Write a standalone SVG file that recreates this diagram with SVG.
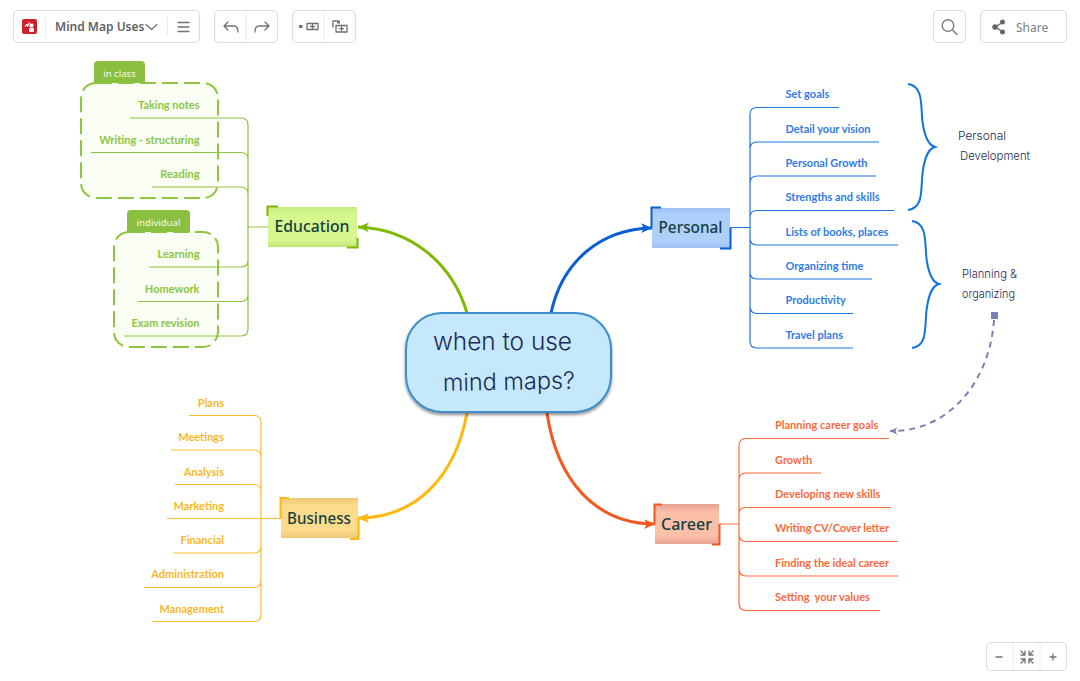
<svg xmlns="http://www.w3.org/2000/svg" width="1080" height="681" viewBox="0 0 1080 681">
<style>
text{font-family:"Noto Sans","Open Sans",sans-serif}
.ui{fill:#fff;stroke:#dcdcdc;stroke-width:1.2}
.sep{stroke:#ececec;stroke-width:1;fill:none}
.ic{fill:none;stroke:#6f7275;stroke-width:1.3;stroke-linecap:round;stroke-linejoin:round}
.l{font-family:"Lato","Noto Sans",sans-serif;font-size:11px;font-weight:700}
.e{fill:#8cc63f}.p{fill:#2f7be6}.c{fill:#fa6a3c}.b{fill:#fbb726}
.end{text-anchor:end}
.t{font-size:16px;font-weight:500;fill:#15403f;text-anchor:middle}
.h{font-family:"Inter","Noto Sans",sans-serif;font-weight:300;fill:#1c2b55}
.line{fill:none;stroke-width:1.2}
.main{fill:none;stroke-width:3}
.br{fill:none;stroke-width:2}
.bound{fill:#f9fdf3;stroke:#8cc63f;stroke-width:2;stroke-dasharray:16 6}
</style>
<defs>
<linearGradient id="ge" x1="0" y1="0" x2="0" y2="1"><stop offset="0" stop-color="#c4ec74"/><stop offset=".15" stop-color="#d6f68e"/><stop offset=".85" stop-color="#d6f68e"/><stop offset="1" stop-color="#bfe56f"/></linearGradient>
<linearGradient id="gp" x1="0" y1="0" x2="0" y2="1"><stop offset="0" stop-color="#9cc0f2"/><stop offset=".15" stop-color="#add0fb"/><stop offset=".85" stop-color="#add0fb"/><stop offset="1" stop-color="#9cc0f2"/></linearGradient>
<linearGradient id="gc" x1="0" y1="0" x2="0" y2="1"><stop offset="0" stop-color="#e5a390"/><stop offset=".2" stop-color="#fcbfa8"/><stop offset=".8" stop-color="#fcbfa8"/><stop offset="1" stop-color="#e5a390"/></linearGradient>
<linearGradient id="gb" x1="0" y1="0" x2="0" y2="1"><stop offset="0" stop-color="#ecc878"/><stop offset=".2" stop-color="#fcdc8c"/><stop offset=".8" stop-color="#fcdc8c"/><stop offset="1" stop-color="#ecc878"/></linearGradient>
<filter id="sh" x="-10%" y="-10%" width="120%" height="125%"><feDropShadow dx="0" dy="2" stdDeviation="1.5" flood-color="#000" flood-opacity=".45"/></filter>
<marker id="ag" viewBox="0 0 12 10" refX="11" refY="5" markerWidth="13" markerHeight="11" markerUnits="userSpaceOnUse" orient="auto"><path d="M1 0.5L11 5L1 9.5L3.500 5Z" fill="#7fba00"/></marker>
<marker id="ab" viewBox="0 0 12 10" refX="11" refY="5" markerWidth="13" markerHeight="11" markerUnits="userSpaceOnUse" orient="auto"><path d="M1 0.5L11 5L1 9.5L3.500 5Z" fill="#0a5fd4"/></marker>
<marker id="ac" viewBox="0 0 12 10" refX="11" refY="5" markerWidth="13" markerHeight="11" markerUnits="userSpaceOnUse" orient="auto"><path d="M1 0.5L11 5L1 9.5L3.500 5Z" fill="#f4581e"/></marker>
<marker id="ay" viewBox="0 0 12 10" refX="11" refY="5" markerWidth="13" markerHeight="11" markerUnits="userSpaceOnUse" orient="auto"><path d="M1 0.5L11 5L1 9.5L3.500 5Z" fill="#ffb80c"/></marker>
<marker id="ar" viewBox="0 0 10 10" refX="9" refY="5" markerWidth="9" markerHeight="9" markerUnits="userSpaceOnUse" orient="auto"><path d="M1 1L9 5L1 9L3 5Z" fill="#7a80b8"/></marker>
</defs>

<g id="toolbar">
<rect class="ui" x="13.500" y="10.500" width="186" height="32" rx="4.500"/>
<rect x="22" y="19" width="15" height="15" rx="2" fill="#d0202e"/>
<path d="M25 27l1.500-3 1 3 2-5M30 24h3v3h-3zM29.500 28.500h4v3h-4z" fill="#fff" stroke="#fff" stroke-width=".8"/>
<path class="sep" d="M45.500 17v19M167.500 17v19"/>
<text x="55" y="31.300" font-size="12" font-weight="600" fill="#5f6368">Mind Map Uses</text>
<path class="ic" d="M146 24.500l5.500 5 5.500-5" stroke-width=".9"/>
<path class="ic" d="M178 22.500h11M178 27h11M178 31.500h11" stroke-width="1"/>
<rect class="ui" x="214.500" y="10.500" width="63" height="32" rx="4.500"/>
<path class="sep" d="M246 11v31"/>
<path class="ic" d="M228 22l-4 4 4 4M224 26h10c3 0 4 2 4 6"/>
<path class="ic" d="M265 22l4 4-4 4M269 26h-10c-3 0-4 2-4 6"/>
<rect class="ui" x="292.500" y="10.500" width="63" height="32" rx="4.500"/>
<path class="sep" d="M324 11v31"/>
<rect x="299" y="25" width="3.500" height="3" fill="#6f7275"/>
<rect class="ic" x="307" y="23.500" width="11" height="6" stroke-width="1"/>
<path class="ic" d="M310.500 26.500h4M312.500 24.500v4" stroke-width=".8"/>
<path class="ic" d="M333 27v-6h4" stroke-width="1"/>
<rect x="337" y="20.500" width="3" height="3" fill="#6f7275"/>
<rect class="ic" x="336" y="25.500" width="11" height="6.500" stroke-width="1"/>
<path class="ic" d="M339.500 28.700h4M341.500 26.700v4" stroke-width=".8"/>
<rect class="ui" x="933.500" y="10.500" width="32" height="32" rx="4.500"/>
<circle class="ic" cx="948" cy="25.500" r="5.800"/>
<path class="ic" d="M952.500 30l4.500 4.500"/>
<rect class="ui" x="980.500" y="10.500" width="86" height="32" rx="4.500"/>
<path d="M1002.500 22.500L995 27l7.500 4.500" fill="none" stroke="#63666a" stroke-width="1.400"/>
<circle cx="995" cy="27" r="2.700" fill="#63666a"/><circle cx="1002.500" cy="22" r="2.500" fill="#63666a"/><circle cx="1002.500" cy="32" r="2.500" fill="#63666a"/>
<text x="1016" y="31.500" font-size="12" fill="#7b7e82">Share</text>
<rect class="ui" x="986.500" y="642.500" width="80" height="28" rx="4.500"/>
<path class="sep" d="M1013 643v27M1040 643v27"/>
<path class="ic" d="M996 657h6M1050 657h6M1053 654v6" stroke-width="1.200"/>
<path class="ic" d="M1021 651l4 4M1021 655h4v-4M1033 651l-4 4M1033 655h-4v-4M1021 663l4-4M1021 659h4v4M1033 663l-4-4M1033 659h-4v4" stroke-width="1"/>
</g>

<g id="boundary-in-class">
<path d="M94 84V65q0-4 4-4H141q4 0 4 4V84Z" fill="#8bbf42"/>
<rect class="bound" x="81" y="83" width="137" height="115" rx="15"/>
<text x="119.500" y="77" font-size="9.600" fill="#f4faea" text-anchor="middle">in class</text>
</g>
<g id="boundary-individual">
<path d="M127 233V214q0-4 4-4H186q4 0 4 4V233Z" fill="#8bbf42"/>
<rect class="bound" x="114" y="232" width="104" height="115" rx="15"/>
<text x="158.500" y="226" font-size="9.600" fill="#f4faea" text-anchor="middle">individual</text>
</g>

<g id="connectors">
<path class="main" stroke="#7fba00" marker-end="url(#ag)" d="M467 313C452 262 410 229 358 227"/>
<path class="main" stroke="#0a5fd4" marker-end="url(#ab)" d="M551 313C562 262 600 229 652 228"/>
<path class="main" stroke="#f4581e" marker-end="url(#ac)" d="M547 413C557 480 595 524 655 524"/>
<path class="main" stroke="#ffb80c" marker-end="url(#ay)" d="M467 413C455 478 415 518 358 518"/>

<g stroke="#8cc63f" class="line">
<path d="M268 227H248M130 118H241q7 0 7 7V329q0 7-7 7H124M91 152.500H241q7 0 7 7M152 187H241q7 0 7 7M149 267H241q7 0 7-7M138 301.500H241q7 0 7-7"/>
</g>
<g stroke="#1c74e3" class="line">
<path d="M730 227.500H750M839 107.500H757q-7 0-7 7V341q0 7 7 7H853M879 142H757q-7 0-7 7M876 176H757q-7 0-7 7M894 210.500H757q-7 0-7 7M898 245H757q-7 0-7-7M872 279H757q-7 0-7-7M853 313.500H757q-7 0-7-7"/>
</g>
<g stroke="#fa6a3c" class="line">
<path d="M719 524H739M889 438.500H746q-7 0-7 7V603.500q0 7 7 7H880M821 473H746q-7 0-7 7M891 507.500H746q-7 0-7 7M898 541.500H746q-7 0-7-7M898 576H746q-7 0-7-7"/>
</g>
<g stroke="#fdbb2d" class="line">
<path d="M281 518.500H167M189 415.500H254q7 0 7 7V614.500q0 7-7 7H152M171 450H254q7 0 7 7M175 484.500H254q7 0 7 7M173 553H254q7 0 7-7M144 587.500H254q7 0 7-7"/>
</g>
<path class="br" stroke="#0f74e0" d="M908 84C925 86 920 110 923 125C925 137 928 145 935 147C928 149 925 157 923 170C920 187 925 208 908 210"/>
<path class="br" stroke="#0f74e0" d="M912 221C929 223 924 247 927 262C929 274 932 282 939 284C932 286 929 294 927 307C924 324 929 346 912 348"/>
<path fill="none" stroke="#7a80b8" stroke-width="2" stroke-dasharray="6 5" marker-end="url(#ar)" d="M994 320C990 380 950 432 890 431"/>
<rect x="991" y="312" width="7" height="7" fill="#7a80b8"/>
</g>

<g id="center">
<rect x="406" y="313" width="205" height="99" rx="36" fill="#c5e8fd" stroke="#3d8ec9" stroke-width="2" filter="url(#sh)"/>
<text class="h" x="433" y="350" font-size="24" textLength="139" lengthAdjust="spacingAndGlyphs">when to use</text>
<text class="h" x="443" y="391" font-size="24" textLength="132" lengthAdjust="spacingAndGlyphs" transform="rotate(-1 443 391)">mind maps?</text>
</g>

<g id="education">
<rect x="268" y="207" width="89" height="40" fill="url(#ge)"/>
<path fill="none" stroke="#7fba00" stroke-width="2" d="M278 206.500H267.500V216M357.500 238V247.500H347"/>
<text class="t" x="312" y="232" textLength="75" lengthAdjust="spacingAndGlyphs">Education</text>
</g>
<g id="personal">
<rect x="652" y="208" width="78" height="40" fill="url(#gp)"/>
<path fill="none" stroke="#0a5fd4" stroke-width="2" d="M661 207.500H651.500V228M730.500 228V248.500H720"/>
<text class="t" x="690.500" y="233" textLength="64" lengthAdjust="spacingAndGlyphs">Personal</text>
</g>
<g id="career">
<rect x="655" y="504" width="64" height="40" fill="url(#gc)"/>
<path fill="none" stroke="#f4581e" stroke-width="2" d="M662 504.500H654.500V524M719.500 524V544.500H712"/>
<text class="t" x="686.500" y="530" textLength="51" lengthAdjust="spacingAndGlyphs">Career</text>
</g>
<g id="business">
<rect x="281" y="498" width="77" height="40" fill="url(#gb)"/>
<path fill="none" stroke="#ffb80c" stroke-width="2" d="M289 498H280.500V518.500M358.500 518V539H350"/>
<text class="t" x="319" y="523.500" textLength="64" lengthAdjust="spacingAndGlyphs">Business</text>
</g>

<g id="education-topics">
<g id="taking-notes"><text class="l e end" x="199.500" y="109">Taking notes</text></g>
<g id="writing-structuring"><text class="l e end" x="199.500" y="144">Writing - structuring</text></g>
<g id="reading"><text class="l e end" x="199.500" y="178">Reading</text></g>
<g id="learning"><text class="l e end" x="199.500" y="258">Learning</text></g>
<g id="homework"><text class="l e end" x="199.500" y="293">Homework</text></g>
<g id="exam-revision"><text class="l e end" x="199.500" y="327">Exam revision</text></g>
</g>
<g id="personal-topics">
<g id="set-goals"><text class="l p" x="785.500" y="98">Set goals</text></g>
<g id="detail-vision"><text class="l p" x="785.500" y="132.500">Detail your vision</text></g>
<g id="personal-growth"><text class="l p" x="785.500" y="166.500">Personal Growth</text></g>
<g id="strengths"><text class="l p" x="785.500" y="201">Strengths and skills</text></g>
<g id="lists"><text class="l p" x="785.500" y="235.500">Lists of books, places</text></g>
<g id="organizing-time"><text class="l p" x="785.500" y="270">Organizing time</text></g>
<g id="productivity"><text class="l p" x="785.500" y="304">Productivity</text></g>
<g id="travel-plans"><text class="l p" x="785.500" y="339">Travel plans</text></g>
</g>
<g id="career-topics">
<g id="planning-career"><text class="l c" x="775" y="429">Planning career goals</text></g>
<g id="growth"><text class="l c" x="775" y="463.500">Growth</text></g>
<g id="new-skills"><text class="l c" x="775" y="498">Developing new skills</text></g>
<g id="cv"><text class="l c" x="775" y="532" textLength="114">Writing CV/Cover letter</text></g>
<g id="ideal-career"><text class="l c" x="775" y="566.500" textLength="114">Finding the ideal career</text></g>
<g id="values"><text class="l c" x="775" y="601" xml:space="preserve">Setting  your values</text></g>
</g>
<g id="business-topics">
<g id="plans"><text class="l b end" x="224" y="406.500">Plans</text></g>
<g id="meetings"><text class="l b end" x="224" y="441">Meetings</text></g>
<g id="analysis"><text class="l b end" x="224" y="475.500">Analysis</text></g>
<g id="marketing"><text class="l b end" x="224" y="509.500">Marketing</text></g>
<g id="financial"><text class="l b end" x="224" y="544">Financial</text></g>
<g id="administration"><text class="l b end" x="224" y="578">Administration</text></g>
<g id="management"><text class="l b end" x="224" y="612.500">Management</text></g>
</g>

<g id="personal-development">
<text class="h" x="958" y="140" font-size="12" textLength="48" lengthAdjust="spacingAndGlyphs">Personal</text>
<text class="h" x="960" y="160" font-size="12" textLength="70" lengthAdjust="spacingAndGlyphs">Development</text>
</g>
<g id="planning-organizing">
<text class="h" x="962" y="278" font-size="12" textLength="55" lengthAdjust="spacingAndGlyphs">Planning &amp;</text>
<text class="h" x="962" y="298" font-size="12" textLength="53" lengthAdjust="spacingAndGlyphs">organizing</text>
</g>
</svg>
